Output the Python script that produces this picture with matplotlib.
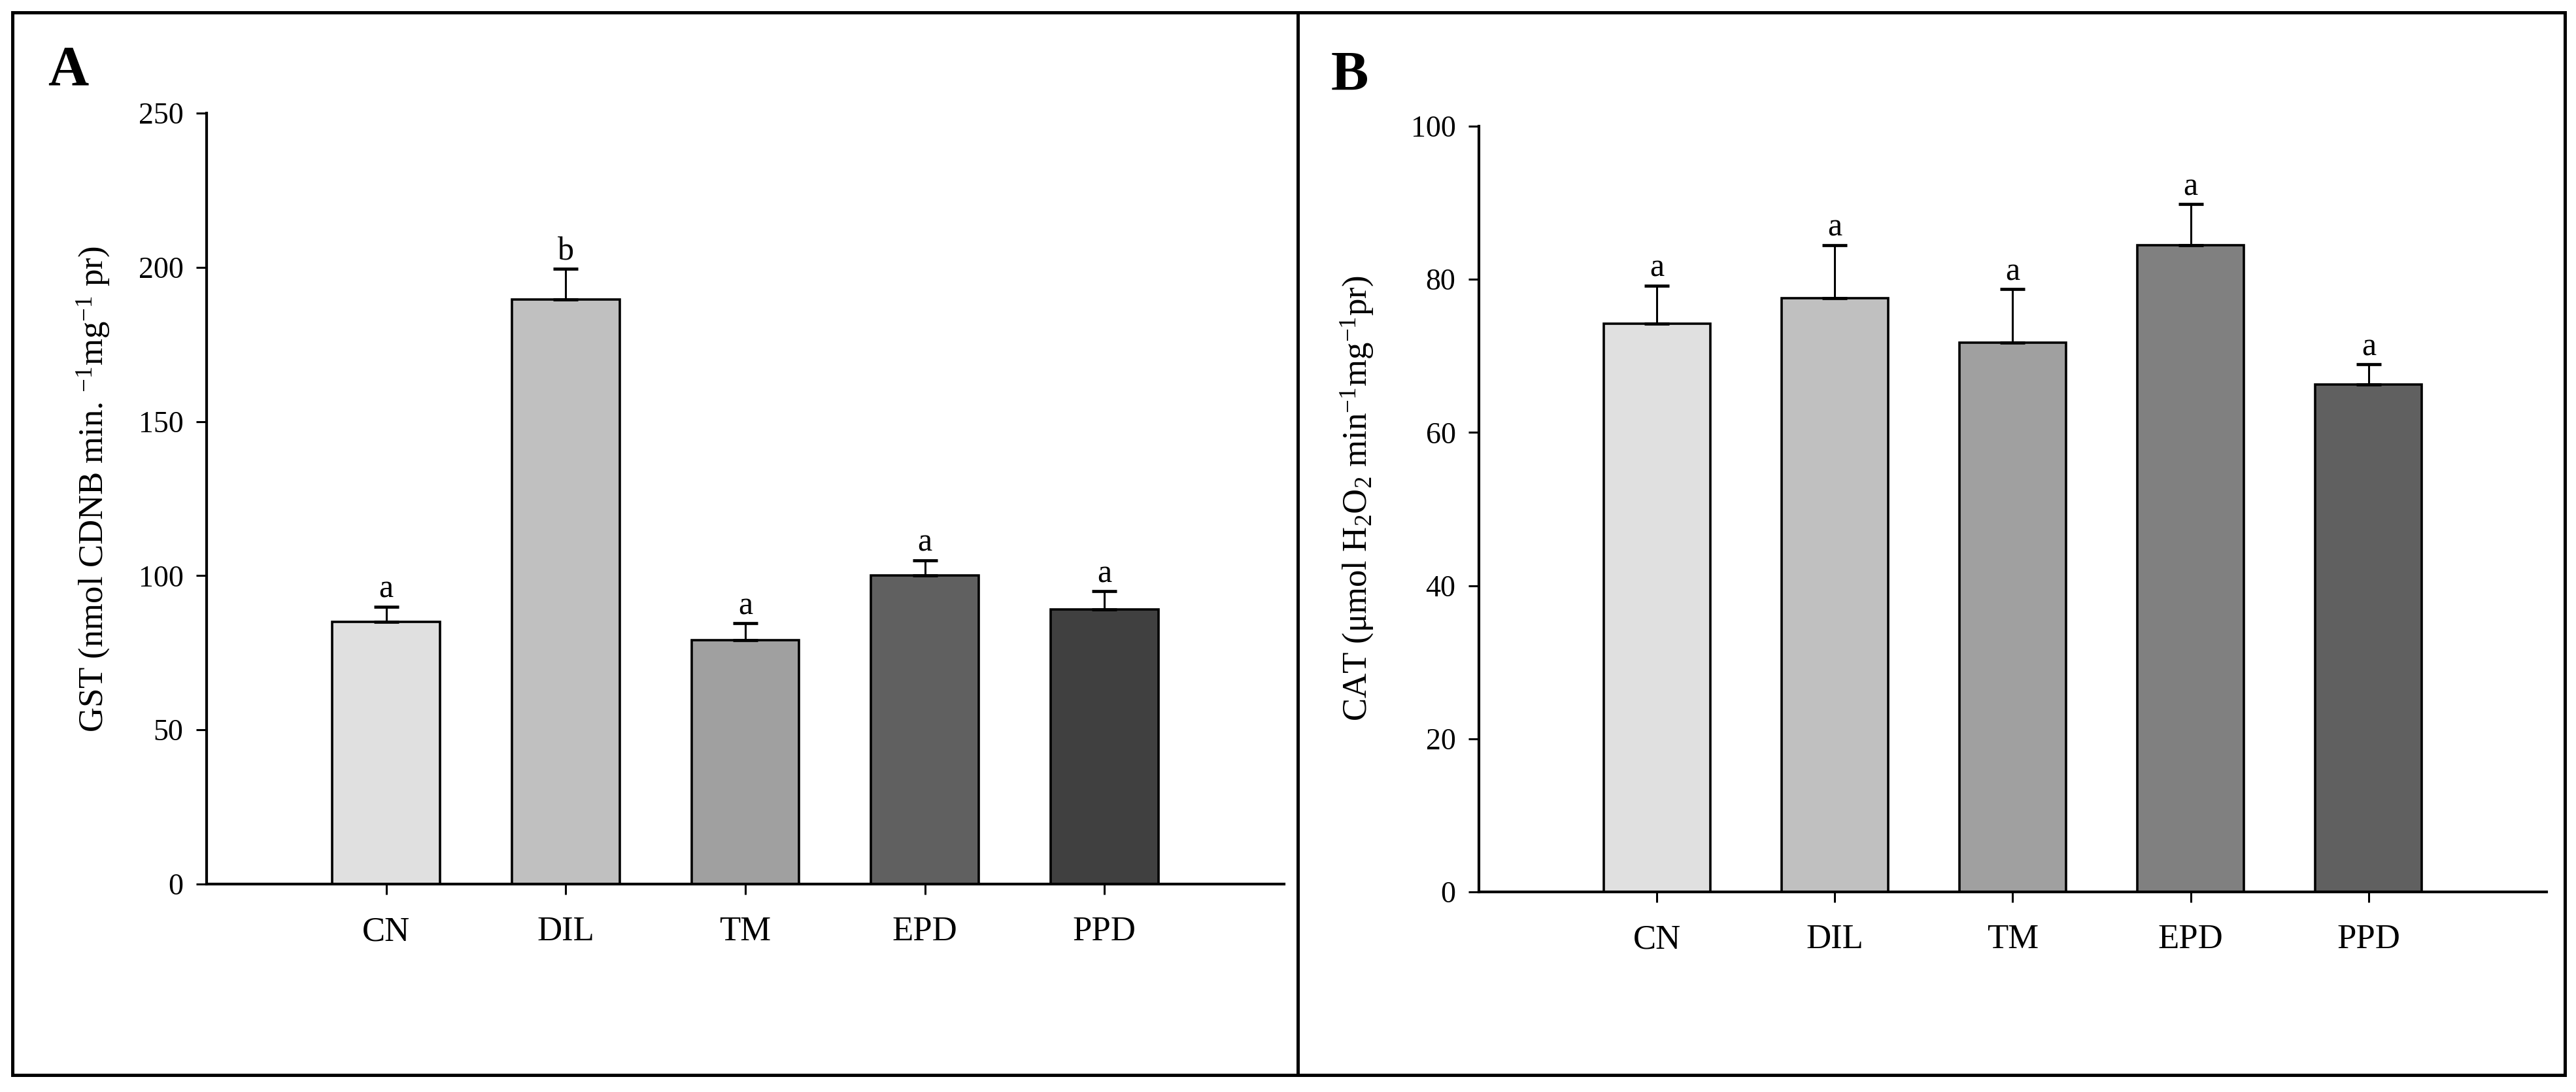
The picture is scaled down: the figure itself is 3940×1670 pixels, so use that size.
import numpy as np
import matplotlib
matplotlib.use("Agg")
import matplotlib.pyplot as plt
from matplotlib.patches import Rectangle
from matplotlib.lines import Line2D

plt.rcParams['font.family'] = ['Liberation Serif', 'DejaVu Serif']
plt.rcParams['mathtext.fontset'] = 'custom'
plt.rcParams['mathtext.rm'] = 'Liberation Serif'
plt.rcParams['mathtext.it'] = 'Liberation Serif:italic'
plt.rcParams['mathtext.bf'] = 'Liberation Serif:bold'

# data
groups = ["CN", "DIL", "TM", "EPD", "PPD"]

gst_mean = [85.0, 189.5, 79.0, 100.0, 89.0]
gst_err = [5.0, 10.0, 5.5, 5.0, 6.0]
gst_letters = ["a", "b", "a", "a", "a"]
gst_colors = ["#e0e0e0", "#c0c0c0", "#a0a0a0", "#606060", "#404040"]

cat_mean = [74.2, 77.5, 71.7, 84.5, 66.3]
cat_err = [5.0, 7.0, 7.0, 5.3, 2.6]
cat_letters = ["a", "a", "a", "a", "a"]
cat_colors = ["#e0e0e0", "#c0c0c0", "#a0a0a0", "#808080", "#606060"]

W, H = 3940, 1670
fig = plt.figure(figsize=(W / 100, H / 100), dpi=100)


def px_axes(left, top, right, bottom):
    return fig.add_axes([left / W, 1 - bottom / H, (right - left) / W, (bottom - top) / H])


def draw_panel(ax, means, errs, letters, colors, ymax, ystep):
    x = np.arange(len(groups))
    ax.bar(x, means, width=0.6, color=colors, edgecolor="black", linewidth=2.6, zorder=2)
    ax.errorbar(x, means, yerr=[np.zeros(len(errs)), errs], fmt="none", ecolor="black",
                elinewidth=2.2, capsize=14, capthick=3.4, zorder=3)
    for xi, m, e, lab in zip(x, means, errs, letters):
        ax.annotate(lab, (xi, m + e), xytext=(0, 10), textcoords="offset points",
                    ha="center", va="baseline", fontsize=36)
    ax.set_xlim(-1, 5)
    ax.set_ylim(0, ymax)
    ax.set_yticks(np.arange(0, ymax + 1, ystep))
    ax.set_xticks(x)
    ax.set_xticklabels(groups, fontsize=38)
    ax.tick_params(axis="y", labelsize=33, direction="out", length=11.5, width=2.2, pad=14)
    ax.tick_params(axis="x", direction="out", length=11.5, width=2.2, pad=24)
    for s in ["top", "right"]:
        ax.spines[s].set_visible(False)
    for s in ["left", "bottom"]:
        ax.spines[s].set_linewidth(3)


axA = px_axes(316, 173, 1964, 1352)
draw_panel(axA, gst_mean, gst_err, gst_letters, gst_colors, 250, 50)

axB = px_axes(2262, 193, 3895, 1364)
draw_panel(axB, cat_mean, cat_err, cat_letters, cat_colors, 100, 20)

fig.text(143 / W, 1 - 748 / H, r"GST (nmol CDNB min. $^{-1}$mg$^{-1}$ pr)",
         rotation=90, ha="center", va="center", fontsize=38)
fig.text(2076 / W, 1 - 762 / H, r"CAT ($\mathrm{\mu}$mol H$_2$O$_2$ min$^{-1}$mg$^{-1}$pr)",
         rotation=90, ha="center", va="center", fontsize=38)

fig.text(73 / W, 1 - 130 / H, "A", fontsize=62, fontweight="bold", ha="left", va="baseline")
fig.text(2036 / W, 1 - 138 / H, "B", fontsize=62, fontweight="bold", ha="left", va="baseline")

# outer frame and divider
fig.add_artist(Rectangle((19 / W, 1 - 1644 / H), (3923 - 19) / W, (1644 - 19) / H,
                         transform=fig.transFigure, fill=False, edgecolor="black", linewidth=3.6))
fig.add_artist(Line2D([1985 / W, 1985 / W], [1 - 1644 / H, 1 - 19 / H],
                      transform=fig.transFigure, color="black", linewidth=3.6))

fig.savefig("out.png", dpi=100, facecolor="white")
